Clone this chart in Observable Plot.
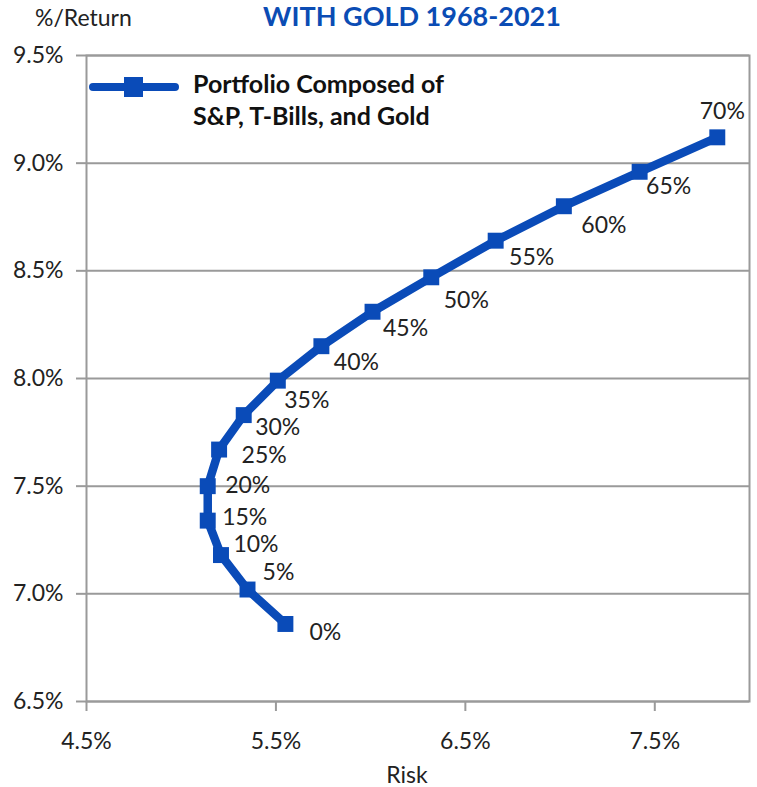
<!DOCTYPE html>
<html><head><meta charset="utf-8">
<script src="https://cdn.jsdelivr.net/npm/d3@7"></script>
<script src="https://cdn.jsdelivr.net/npm/@observablehq/plot@0.6"></script>
<style>
body{margin:0;background:#fff;font-family:Lato,sans-serif;}
#wrap{position:relative;width:757px;height:787px;overflow:hidden;}
#head{position:relative;height:40px;}
#title{position:absolute;left:412px;top:0;transform:translateX(-50%);font-weight:700;font-size:27px;color:#0b4cb4;line-height:32px;white-space:nowrap;}
#ylab{position:absolute;left:35px;top:6px;font-size:23px;line-height:23px;color:#222;font-weight:400;white-space:nowrap;}
#legsw{position:absolute;left:0;top:0;pointer-events:none;}
#legtxt{position:absolute;left:193px;top:67px;font-weight:700;font-size:25px;line-height:32px;color:#111;white-space:nowrap;}
</style>
</head><body>
<div id="wrap">
  <div id="head"><div id="ylab">%/Return</div><div id="title">WITH GOLD 1968-2021</div></div>
  <div id="chart"></div>
  <svg id="legsw" width="757" height="787"></svg>
  <div id="legtxt"></div>
</div>
<script>
// data
const goldShare = [0, 5, 10, 15, 20, 25, 30, 35, 40, 45, 50, 55, 60, 65, 70];
const risk = [5.55, 5.35, 5.21, 5.14, 5.14, 5.20, 5.33, 5.51, 5.74, 6.01, 6.32, 6.66, 7.02, 7.42, 7.83];
const ret = [6.86, 7.02, 7.18, 7.34, 7.50, 7.67, 7.83, 7.99, 8.15, 8.31, 8.47, 8.64, 8.80, 8.96, 9.12];
const xTicks = [4.5, 5.5, 6.5, 7.5];
const yTicks = [6.5, 7.0, 7.5, 8.0, 8.5, 9.0, 9.5];
const seriesName = ["Portfolio Composed of", "S&P, T-Bills, and Gold"];

// label placement (style)
const labelOffsets = [[40, 9], [31, -17], [35, -10], [37, -3], [40, -1], [45, 6], [34, 13], [29, 20],
  [35, 16], [33, 17], [35, 23], [36, 17], [40, 19], [29, 15], [5, -26]];

const blue = "#0a4bb8";
const grey = "#9a9a9a";
const ink = "#222";
const data = goldShare.map((g, i) => ({g, x: risk[i], y: ret[i], label: g + "%"}));
const fmt = d => d.toFixed(1) + "%";

const labelMarks = data.map((d, i) => Plot.text([d], {
  x: "x", y: "y", text: "label", dx: labelOffsets[i][0], dy: labelOffsets[i][1],
  fill: ink, fontSize: 23, fontWeight: 400
}));

const chart = Plot.plot({
  width: 757, height: 747,
  marginTop: 15, marginBottom: 86, marginLeft: 86, marginRight: 8,
  style: {fontFamily: "Lato, sans-serif", fontSize: "23px", color: ink, background: "#fff"},
  x: {domain: [4.5, 8.0]},
  y: {domain: [6.5, 9.5]},
  marks: [
    Plot.gridY({ticks: yTicks, stroke: grey, strokeOpacity: 1, strokeWidth: 2}),
    Plot.frame({stroke: grey, strokeWidth: 2}),
    Plot.axisX({ticks: xTicks, tickFormat: fmt, tickSize: 10, tickPadding: 21, stroke: grey, strokeWidth: 2, strokeOpacity: 1, fill: ink, fontSize: 23, fontWeight: 400, label: null}),
    Plot.axisY({ticks: yTicks, tickFormat: fmt, tickSize: 10, tickPadding: 13, stroke: grey, strokeWidth: 2, strokeOpacity: 1, fill: ink, fontSize: 23, fontWeight: 400, label: null}),
    Plot.text(["Risk"], {text: d => d, frameAnchor: "bottom", dx: -11, dy: 81, fill: ink, fontSize: 23, fontWeight: 400}),
    Plot.line(data, {x: "x", y: "y", stroke: blue, strokeWidth: 8.5, strokeLinejoin: "round"}),
    Plot.dot(data, {x: "x", y: "y", symbol: "square", r: 9, fill: blue, stroke: "none"}),
    ...labelMarks
  ]
});
document.getElementById("chart").appendChild(chart);

// legend swatch
const sw = d3.select("#legsw");
sw.append("line").attr("x1", 93).attr("x2", 175).attr("y1", 87).attr("y2", 87)
  .attr("stroke", blue).attr("stroke-width", 8).attr("stroke-linecap", "round");
sw.append("rect").attr("x", 124).attr("y", 77).attr("width", 19).attr("height", 20).attr("fill", blue);
document.getElementById("legtxt").innerHTML = seriesName.map(s => s.replace("&", "&amp;")).join("<br>");
</script>
</body></html>
